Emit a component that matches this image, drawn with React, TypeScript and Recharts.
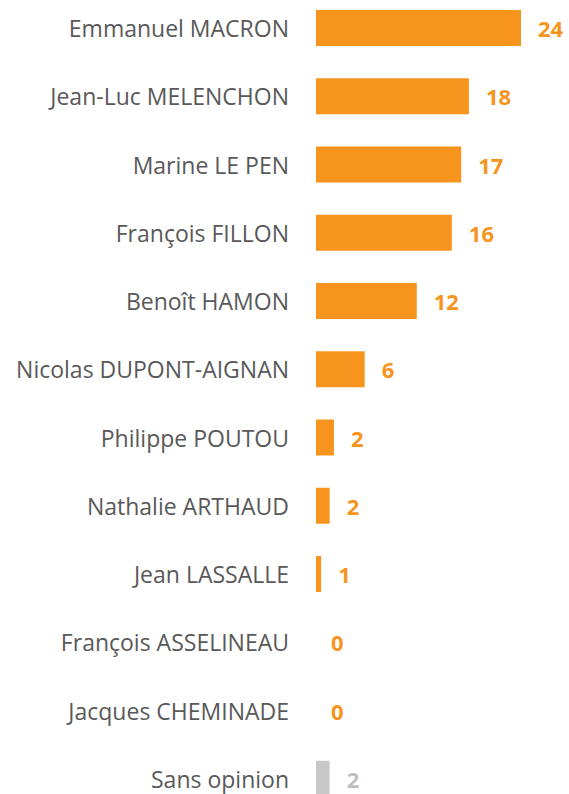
import { Bar, BarChart, Cell, LabelList, XAxis, YAxis } from 'recharts'

const candidates = [
  'Emmanuel MACRON',
  'Jean-Luc MELENCHON',
  'Marine LE PEN',
  'François FILLON',
  'Benoît HAMON',
  'Nicolas DUPONT-AIGNAN',
  'Philippe POUTOU',
  'Nathalie ARTHAUD',
  'Jean LASSALLE',
  'François ASSELINEAU',
  'Jacques CHEMINADE',
  'Sans opinion',
]

const scores = [24, 17.9, 17, 15.9, 11.8, 5.7, 2.1, 1.6, 0.6, 0, 0, 1.6]

const NO_OPINION = 'Sans opinion'
const ORANGE = '#f7941d'
const GREY_BAR = '#c8c8c8'
const GREY_TEXT = '#bfbfbf'
const FONT = "'Open Sans', sans-serif"
const TICK_GAP = 27 // tickSize + tickMargin
const LABEL_OFFSET = 17

const data = candidates.map((name, i) => ({ name, score: scores[i] }))

function valueText(x: number, y: number, name: string) {
  const value = scores[candidates.indexOf(name)]
  return (
    <text
      x={x}
      y={y}
      dominantBaseline="central"
      fill={name === NO_OPINION ? GREY_TEXT : ORANGE}
      fontWeight={700}
      fontSize={22}
      fontFamily={FONT}
    >
      {String(Math.round(value))}
    </text>
  )
}

// LabelList is keyed on the name so the colour follows the right row
function ValueLabel(props: any) {
  const { x, y, width, height, value } = props
  return valueText(Number(x) + Number(width || 0) + LABEL_OFFSET, Number(y) + Number(height) / 2, String(value))
}

// zero-length bars get no label from recharts, so the axis tick draws it
function NameTick(props: any) {
  const { x, y, payload } = props
  const i = candidates.indexOf(payload.value)
  return (
    <g>
      <text x={x} y={y} textAnchor="end" dominantBaseline="central" fill="#595959" fontSize={23} fontFamily={FONT}>
        {payload.value}
      </text>
      {scores[i] === 0 && valueText(x + TICK_GAP + LABEL_OFFSET - 2, y, payload.value)}
    </g>
  )
}

export default function App() {
  return (
    <div style={{ position: 'relative', width: 569, height: 794, overflow: 'hidden', background: '#fff' }}>
      <style>{'body{margin:0}'}</style>
      <div style={{ position: 'absolute', top: -6, left: 0 }}>
        <BarChart
          width={569}
          height={819}
          data={data}
          layout="vertical"
          margin={{ top: 0, right: 48, bottom: 0, left: 0 }}
          barCategoryGap={0}
        >
          <XAxis type="number" domain={[0, 24]} hide />
          <YAxis
            type="category"
            dataKey="name"
            width={316}
            axisLine={false}
            tickLine={false}
            tickSize={6}
            tickMargin={21}
            interval={0}
            tick={<NameTick />}
          />
          <Bar dataKey="score" barSize={36} isAnimationActive={false}>
            {data.map((d) => (
              <Cell key={d.name} fill={d.name === NO_OPINION ? GREY_BAR : ORANGE} />
            ))}
            <LabelList dataKey="name" content={<ValueLabel />} />
          </Bar>
        </BarChart>
      </div>
    </div>
  )
}
